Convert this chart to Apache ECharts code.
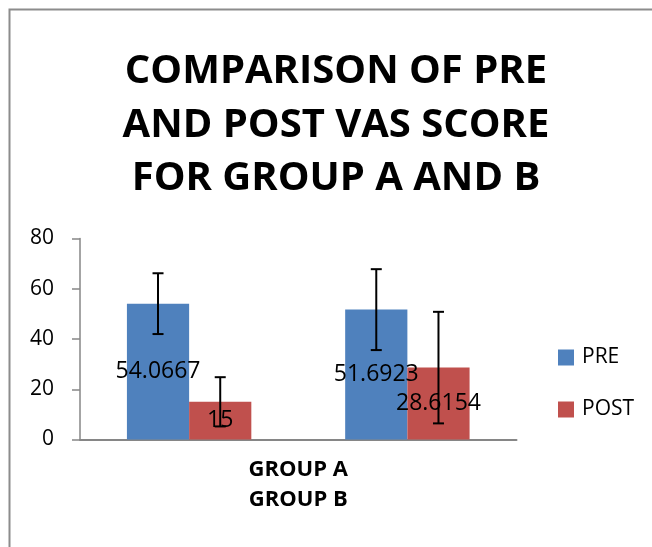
<!DOCTYPE html>
<html>
<head>
<meta charset="utf-8">
<script src="https://cdn.jsdelivr.net/npm/echarts@6/dist/echarts.min.js"></script>
<style>html,body{margin:0;padding:0;background:#fff}#c{width:652px;height:547px}</style>
</head>
<body>
<div id="c"></div>
<script>
var categories = ['GROUP A', 'GROUP B'];
var preValues = [54.0667, 51.6923];
var postValues = [15, 28.6154];
var preErr = [12.1, 16.1];
var postErr = [9.8, 22.2];
var yTicks = [0, 20, 40, 60, 80];

var FONT = '"Open Sans", "Noto Sans", sans-serif';
var BAR_CAT_GAP = 0.43;

function errData(vals, errs) {
  return vals.map(function (v, i) { return [i, v - errs[i], v + errs[i]]; });
}
function errRender(side) {
  return function (params, api) {
    var idx = api.value(0);
    var lo = api.coord([idx, api.value(1)]);
    var hi = api.coord([idx, api.value(2)]);
    var catW = api.size([1, 0])[0];
    var barW = catW * (1 - BAR_CAT_GAP) / 2;
    var x = lo[0] + side * barW / 2;
    var cap = 5.5;
    var st = { stroke: '#000', lineWidth: 2 };
    return {
      type: 'group',
      children: [
        { type: 'line', shape: { x1: x, y1: lo[1], x2: x, y2: hi[1] }, style: st },
        { type: 'line', shape: { x1: x - cap, y1: lo[1], x2: x + cap, y2: lo[1] }, style: st },
        { type: 'line', shape: { x1: x - cap, y1: hi[1], x2: x + cap, y2: hi[1] }, style: st }
      ]
    };
  };
}

var chart = echarts.init(document.getElementById('c'));
chart.setOption({
  animation: false,
  backgroundColor: '#fff',
  textStyle: { fontFamily: FONT },
  title: {
    text: 'COMPARISON OF PRE\nAND POST VAS SCORE\nFOR GROUP A AND B',
    left: 336,
    top: 45,
    padding: 0,
    textAlign: 'center',
    textStyle: { fontFamily: FONT, fontSize: 40, fontWeight: 'bold', color: '#000', lineHeight: 53.5 }
  },
  graphic: [{
    type: 'rect', silent: true, z: -10,
    shape: { x: 9.5, y: 9.5, width: 700, height: 600 },
    style: { fill: 'none', stroke: '#8c8c8c', lineWidth: 2 }
  }],
  legend: {
    orient: 'vertical',
    left: 558,
    top: 347,
    padding: 0,
    itemWidth: 16,
    itemHeight: 16,
    itemGap: 31,
    icon: 'rect',
    data: ['PRE', 'POST'],
    textStyle: { fontFamily: FONT, fontSize: 21, color: '#000', padding: [0, 0, 0, 3] }
  },
  grid: { left: 80, right: 135.5, top: 238.5, bottom: 107.5 },
  xAxis: {
    type: 'category',
    data: categories,
    axisLine: { lineStyle: { color: '#868686', width: 2 } },
    axisTick: { show: false },
    axisLabel: { show: false },
    name: categories.join('\n'),
    nameLocation: 'middle',
    nameGap: 15,
    nameTextStyle: { fontFamily: FONT, fontSize: 22, fontWeight: 'bold', color: '#000', lineHeight: 30 }
  },
  yAxis: {
    type: 'value',
    min: yTicks[0],
    max: yTicks[yTicks.length - 1],
    interval: 20,
    axisLine: { show: true, lineStyle: { color: '#868686', width: 1.5 } },
    axisTick: { show: true, length: 8, lineStyle: { color: '#868686', width: 1.5 } },
    axisLabel: { fontFamily: FONT, fontSize: 21, color: '#000', margin: 26 },
    splitLine: { show: false }
  },
  series: [
    {
      name: 'PRE', type: 'bar', data: preValues,
      barGap: '0%', barCategoryGap: (BAR_CAT_GAP * 100) + '%',
      itemStyle: { color: '#4F81BD' },
      label: { show: true, position: 'inside', color: '#000', fontFamily: FONT, fontSize: 23 }
    },
    {
      name: 'POST', type: 'bar', data: postValues,
      barGap: '0%', barCategoryGap: (BAR_CAT_GAP * 100) + '%',
      itemStyle: { color: '#C0504D' },
      label: { show: true, position: 'inside', color: '#000', fontFamily: FONT, fontSize: 23 }
    },
    {
      type: 'custom', name: 'PRE err', data: errData(preValues, preErr),
      renderItem: errRender(-1), encode: { x: 0, y: [1, 2] }, z: 5, silent: true
    },
    {
      type: 'custom', name: 'POST err', data: errData(postValues, postErr),
      renderItem: errRender(1), encode: { x: 0, y: [1, 2] }, z: 5, silent: true
    }
  ]
});
</script>
</body>
</html>
